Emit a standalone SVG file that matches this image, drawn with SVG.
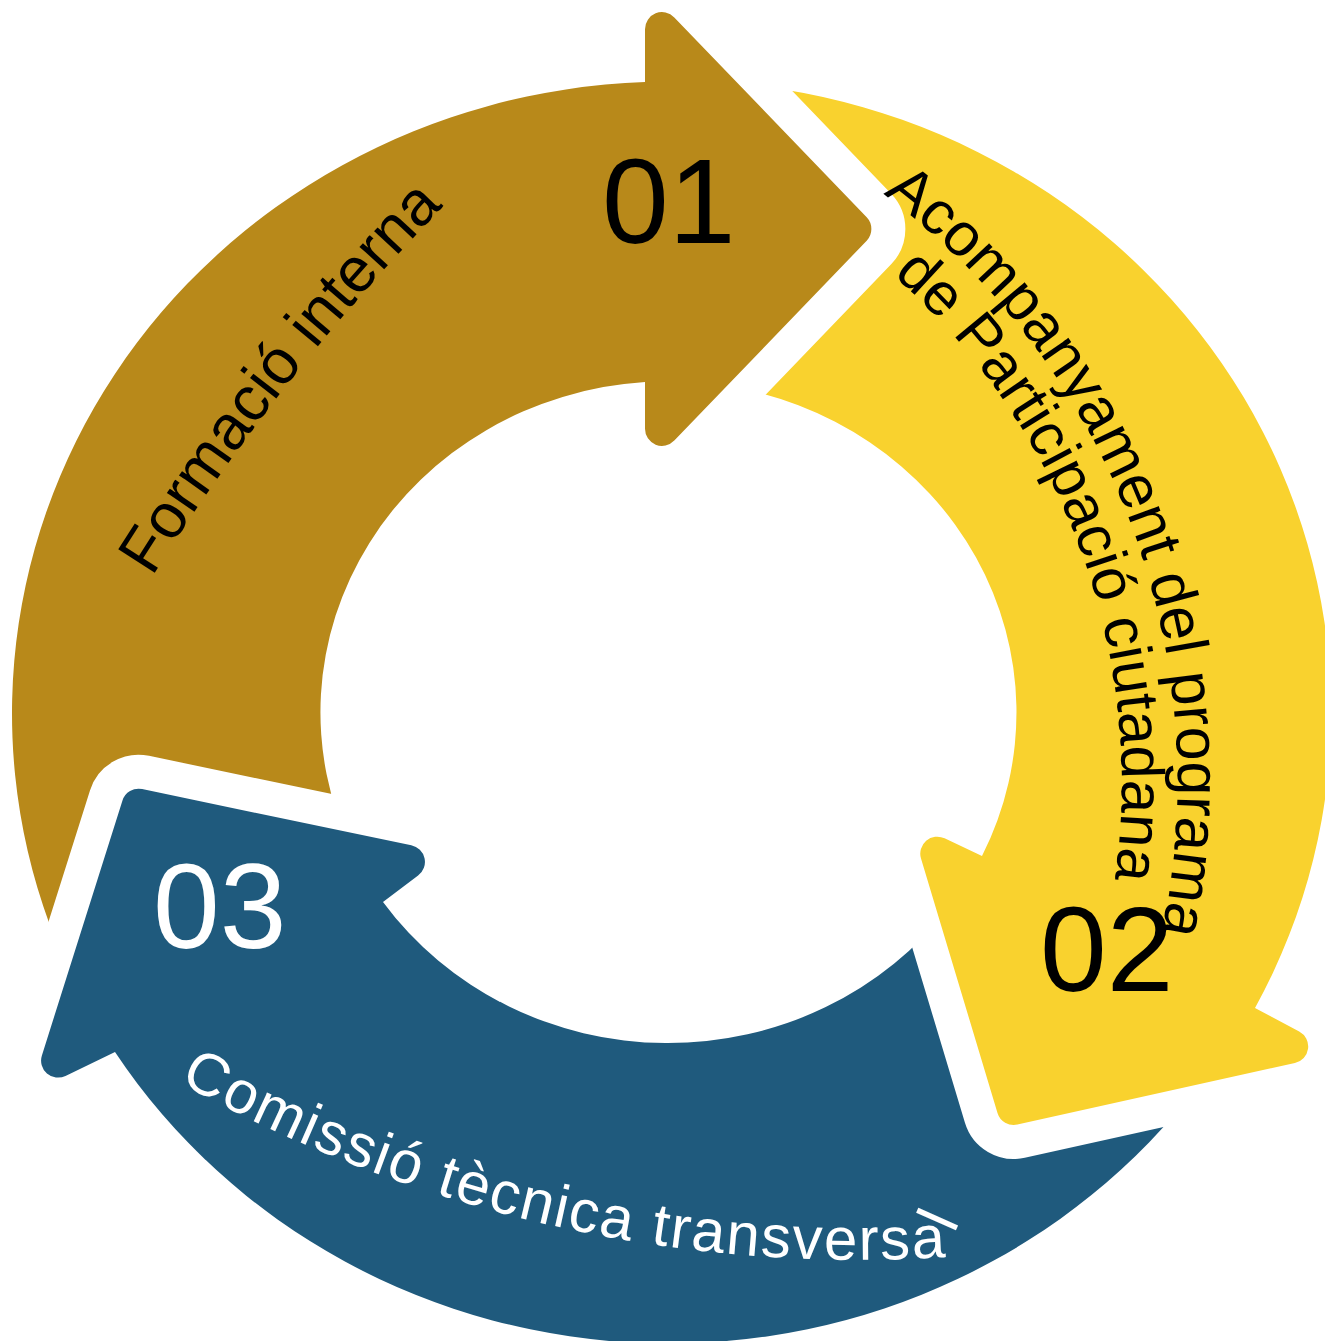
<svg xmlns="http://www.w3.org/2000/svg" xmlns:xlink="http://www.w3.org/1999/xlink" width="1325" height="1341" viewBox="0 0 1325 1341">
<defs>
<style>
.arrow { stroke: #ffffff; stroke-width: 68; stroke-linejoin: round; paint-order: stroke; }
.brown { fill: #B8891A; }
.yellow { fill: #F9D22E; }
.blue { fill: #1F5A7D; }
.lbl { font-family: "Liberation Sans", Arial, Helvetica, sans-serif; }
.num { font-family: "Liberation Sans", Arial, Helvetica, sans-serif; font-size: 120px; }
</style>
<path id="pBrown" d="M 64,960 A 657 632 0 0 1 645,82 L 645,29.2 A 17 17 0 0 1 674.3,17.4 L 866.7,217.3 A 17 17 0 0 1 866.7,240.7 L 674.3,440.6 A 17 17 0 0 1 645,428.8 L 645,382 A 348 331 0 0 0 352,850 Z"/>
<path id="pYellow" d="M 720,385 L 700,81 A 657 632 0 0 1 1255,1008 L 1299.2,1031.4 A 17 17 0 0 1 1294.9,1063 L 1017.4,1124.6 A 17 17 0 0 1 997.5,1112.9 L 921,858.6 A 17 17 0 0 1 944.6,838.3 L 982,856 A 348 331 0 0 0 720,385 Z"/>
<path id="pBlue" d="M 950,906 L 1240,1030 L 1200,1083 A 657 632 0 0 1 115,1052 L 65.5,1075.9 A 17 17 0 0 1 41.9,1055.4 L 122.4,800.7 A 17 17 0 0 1 142.1,789.1 L 411.3,845.3 A 17 17 0 0 1 418.1,875.6 L 383,902 A 348 331 0 0 0 950,906 Z"/>
<path id="tpF" d="M 152,577 A 2200 2200 0 0 1 490,160"/>
<path id="tpA1" d="M 883,194 A 732 732 0 0 1 1133,1032"/>
<path id="tpA2" d="M 893,275 A 677 677 0 0 1 1081,1013.5"/>
<path id="tpC" d="M 179,1082 A 1389 1389 0 0 0 1098,1239"/>
<clipPath id="cBlueHead"><rect x="-20" y="740" width="520" height="420"/></clipPath>
</defs>
<rect x="0" y="0" width="1325" height="1341" fill="#ffffff"/>
<g id="node-03">
<use href="#pBlue" class="arrow blue"/>
</g>
<g id="node-02">
<use href="#pYellow" class="arrow yellow"/>
</g>
<g id="node-01">
<use href="#pBrown" class="arrow brown"/>
</g>
<g id="node-03-head" clip-path="url(#cBlueHead)">
<use href="#pBlue" class="arrow blue"/>
</g>
<g id="connectors"></g>
<g id="label-01">
<text class="num" x="602" y="243" fill="#000000">01</text>
<text class="lbl" font-size="63" fill="#000000"><textPath href="#tpF">Formació interna</textPath></text>
</g>
<g id="label-02">
<text class="num" x="1040" y="991" fill="#000000">02</text>
<text class="lbl" font-size="61" fill="#000000"><textPath href="#tpA1">Acompanyament del programa</textPath></text>
<text class="lbl" font-size="60" fill="#000000"><textPath href="#tpA2">de Participació ciutadana</textPath></text>
</g>
<g id="label-03">
<text class="num" x="153" y="948" fill="#ffffff">03</text>
<text class="lbl" font-size="60" letter-spacing="1.8" fill="#ffffff"><textPath href="#tpC">Comissió tècnica transversa</textPath></text>
<text class="lbl" font-size="60" fill="#ffffff" transform="translate(957 1228) rotate(-66)" x="-6.6" y="0">l</text>
</g>
</svg>
